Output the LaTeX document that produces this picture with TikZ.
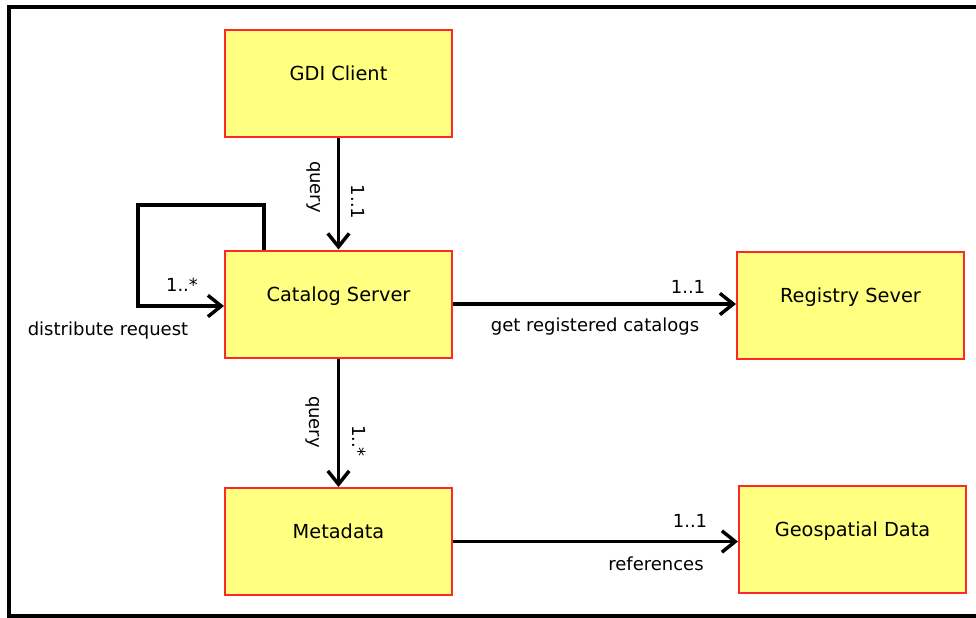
\documentclass[tikz,border=0pt]{standalone}
\usepackage{fontspec}
\setmainfont{DejaVu Sans}
\usetikzlibrary{arrows.meta}
\definecolor{boxfill}{RGB}{255,255,128}
\definecolor{boxline}{RGB}{255,40,40}
\tikzset{
  umlbox/.style={draw=boxline, fill=boxfill, line width=1.5pt, minimum width=170.25pt, minimum height=80.25pt, inner sep=0pt, font=\fontsize{14.5}{17}\selectfont},
  assoc/.style={line width=2.6pt, -{Straight Barb[length=10pt,width=16pt,line width=2.6pt]}},
  lbl/.style={font=\fontsize{13.5}{16}\selectfont, inner sep=0pt},
  frameline/.style={line width=2.5pt}
}
\begin{document}
\begin{tikzpicture}[x=0.75pt, y=-0.75pt]
\useasboundingbox (0,0) rectangle (976,618);
\draw[frameline] (980,7) -- (9,7) -- (9,616) -- (980,616);

\node[umlbox] (gdi) at (338.5,83.5) {\raisebox{15pt}{GDI Client}};
\node[umlbox] (cat) at (338.5,304) {\raisebox{15pt}{Catalog Server}};
\node[umlbox] (reg) at (850.5,305.5) {\raisebox{15pt}{Registry Sever}};
\node[umlbox] (meta) at (338.5,541.5) {\raisebox{15pt}{Metadata}};
\node[umlbox] (geo) at (852.5,539) {\raisebox{15pt}{Geospatial Data}};

% GDI -> Catalog
\draw[assoc] (gdi.south) -- (cat.north);
\node[lbl, rotate=-90] (q1) at (314,187) {query};
\node[lbl, rotate=-90] (m1) at (358,202) {1..1};

% Catalog -> Metadata
\draw[assoc] (cat.south) -- (meta.north);
\node[lbl, rotate=-90] (q2) at (313,422) {query};
\node[lbl, rotate=-90] (m2) at (359,441) {1..*};

% self loop
\coordinate (l1) at (264,205);
\coordinate (l2) at (138,205);
\coordinate (l3) at (138,306);
\draw[assoc] (cat.north -| l1) -- (l1) -- (l2) -- (l3) -- (l3 -| cat.west);
\node[lbl] (m3) at (182,285) {1..*};
\node[lbl] (dr) at (108,331) {distribute request};

% Catalog -> Registry
\draw[assoc] (cat.east) -- (cat.east -| reg.west);
\node[lbl] (m4) at (688,287) {1..1};
\node[lbl] (grc) at (595,327) {get registered catalogs};

% Metadata -> Geo
\draw[assoc] (meta.east) -- (meta.east -| geo.west);
\node[lbl] (m5) at (690,521) {1..1};
\node[lbl] (ref) at (656,564) {references};
\end{tikzpicture}
\end{document}
